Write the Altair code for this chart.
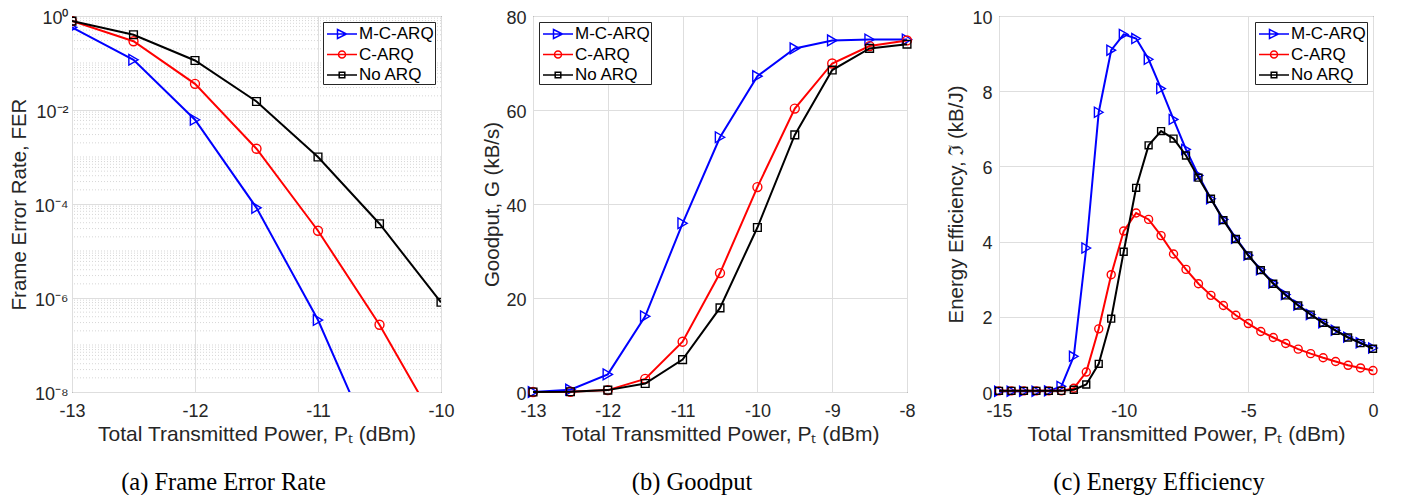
import altair as alt
import pandas as pd

series = ["M-C-ARQ", "C-ARQ", "No ARQ"]
colors = ["#0000ff", "#ff0000", "#000000"]
shapes = ["triangle-right", "circle", "square"]

# (a) Frame Error Rate
fer_x = [-13, -12.5, -12, -11.5, -11, -10.5, -10]
fer_mcarq = [0.57, 0.117, 0.0062, 8.3e-5, 3.4e-7, 3.5e-10, None]
fer_carq = [0.78, 0.29, 0.036, 0.0015, 2.7e-5, 2.7e-7, 1.4e-9]
fer_noarq = [0.78, 0.40, 0.113, 0.0152, 0.001, 3.8e-5, 8.1e-7]

# (b) Goodput
gp_x = [-13, -12.5, -12, -11.5, -11, -10.5, -10, -9.5, -9, -8.5, -8]
gp_mcarq = [0.0, 0.5, 3.75, 16.1, 35.9, 54.2, 67.2, 73.1, 74.8, 75.0, 75.0]
gp_carq = [0.0, 0.05, 0.4, 2.8, 10.7, 25.3, 43.6, 60.3, 69.9, 73.6, 74.8]
gp_noarq = [0.0, 0.05, 0.4, 1.8, 6.9, 17.9, 35.0, 54.7, 68.5, 73.1, 74.0]

# (c) Energy Efficiency
ee_x = [-15, -14.5, -14, -13.5, -13, -12.5, -12, -11.5, -11, -10.5, -10,
        -9.5, -9, -8.5, -8, -7.5, -7, -6.5, -6, -5.5, -5, -4.5, -4, -3.5,
        -3, -2.5, -2, -1.5, -1, -0.5, 0]
ee_mcarq = [0.02, 0.02, 0.02, 0.02, 0.03, 0.15, 0.95, 3.83, 7.44, 9.09, 9.51,
            9.40, 8.85, 8.07, 7.25, 6.45, 5.76, 5.14, 4.59, 4.09, 3.64, 3.25,
            2.90, 2.59, 2.31, 2.06, 1.84, 1.64, 1.46, 1.31, 1.17]
ee_carq = [0.03, 0.03, 0.03, 0.03, 0.03, 0.03, 0.10, 0.53, 1.68, 3.12, 4.28,
           4.76, 4.59, 4.16, 3.67, 3.26, 2.88, 2.57, 2.30, 2.04, 1.82, 1.61,
           1.45, 1.29, 1.14, 1.02, 0.91, 0.81, 0.71, 0.64, 0.57]
ee_noarq = [0.03, 0.03, 0.03, 0.03, 0.03, 0.03, 0.06, 0.20, 0.75, 1.95, 3.73,
            5.43, 6.56, 6.94, 6.74, 6.29, 5.70, 5.14, 4.57, 4.07, 3.63, 3.24,
            2.88, 2.57, 2.30, 2.06, 1.84, 1.63, 1.45, 1.30, 1.15]

# tick values / labels
fer_xticks = [-13, -12, -11, -10]
fer_yticks = [1, 1e-2, 1e-4, 1e-6, 1e-8]
fer_ylabels = ["10⁰", "10⁻²", "10⁻⁴", "10⁻⁶", "10⁻⁸"]
gp_xticks = [-13, -12, -11, -10, -9, -8]
gp_yticks = [0, 20, 40, 60, 80]
ee_xticks = [-15, -10, -5, 0]
ee_yticks = [0, 2, 4, 6, 8, 10]

x_title = "Total Transmitted Power, Pₜ (dBm)"
captions = ["(a) Frame Error Rate", "(b) Goodput", "(c) Energy Efficiency"]
y_titles = ["Frame Error Rate, FER", "Goodput, G (kB/s)", "Energy Efficiency, ℑ (kB/J)"]


def long_df(xs, cols):
    rows = []
    for s, vals in zip(series, cols):
        for x, v in zip(xs, vals):
            if v is not None:
                rows.append({"x": x, "v": v, "series": s})
    return pd.DataFrame(rows)


df_a = long_df(fer_x, [fer_mcarq, fer_carq, fer_noarq])
df_b = long_df(gp_x, [gp_mcarq, gp_carq, gp_noarq])
df_c = long_df(ee_x, [ee_mcarq, ee_carq, ee_noarq])

FONT = "Liberation Sans"
AX = "#262626"

# legend glyphs: a short line with the marker in its middle
legend_paths = [
    "M-0.8,0L2.2,0M0.25,-0.45L1.15,0L0.25,0.45Z",
    "M-0.8,0L2.2,0M1.05,0A0.35,0.35,0,1,1,0.35,0A0.35,0.35,0,1,1,1.05,0Z",
    "M-0.8,0L2.2,0M0.42,-0.28L0.98,-0.28L0.98,0.28L0.42,0.28Z",
]


def make_legend(orient):
    return alt.Legend(
        title=None, orient=orient, offset=6,
        labelFont=FONT, labelFontSize=17, labelColor="#000000",
        fillColor="white", strokeColor=AX, padding=1,
        symbolSize=400, symbolStrokeWidth=1.5, symbolOpacity=1,
        symbolFillColor="transparent",
        rowPadding=1.5, labelOffset=13,
    )


def axis(values, title, label_expr=None, title_pad=4, label_pad=7, title_size=20.5,
         label_offset=0):
    return alt.Axis(
        values=values, title=title, grid=True, gridColor="#dedede", gridWidth=1,
        domain=False, ticks=False, labelFont=FONT, labelFontSize=18,
        labelColor=AX, labelOverlap=False, labelPadding=label_pad, labelFlush=False,
        labelOffset=label_offset,
        titleFont=FONT, titleFontSize=title_size, titleFontWeight="normal",
        titleColor=AX, titlePadding=title_pad,
        labelExpr=label_expr if label_expr else "datum.value + ''",
    )


def xaxis(values):
    return axis(values, x_title, title_pad=3, label_pad=10, title_size=21)


def panel(df, xdom, x_axis, ydom, y_axis, orient, caption, cap_dx, width, height,
          ylog=False, clip=False, msizes=(90, 70, 50), extra=None):
    xs = alt.Scale(domain=xdom, nice=False, zero=False)
    if ylog:
        ys = alt.Scale(type="log", domain=ydom, nice=False)
    else:
        ys = alt.Scale(domain=ydom, nice=False, zero=False)
    cs = alt.Scale(domain=series, range=colors)
    legend = make_legend(orient)
    x_enc = alt.X("x:Q", scale=xs, axis=x_axis)
    y_enc = alt.Y("v:Q", scale=ys, axis=y_axis)
    layers = []
    # invisible layer that only carries the legend glyphs
    leg = alt.Chart(df).mark_point(size=400, opacity=0, filled=False, clip=True).encode(
        x=x_enc, y=y_enc,
        color=alt.Color("series:N", scale=cs, legend=legend),
        shape=alt.Shape("series:N", scale=alt.Scale(domain=series, range=legend_paths),
                        legend=legend),
    )
    layers.append(leg)
    if extra is not None:
        layers.append(extra)
    for i, s in enumerate(series):
        base = alt.Chart(df).transform_filter(alt.datum.series == s)
        enc = dict(x=x_enc, y=y_enc,
                   color=alt.Color("series:N", scale=cs, legend=legend))
        layers.append(base.mark_line(strokeWidth=2, clip=clip).encode(**enc))
        layers.append(base.mark_point(shape=shapes[i], size=msizes[i], filled=False,
                                      strokeWidth=1.4, opacity=1, clip=clip).encode(**enc))
    return alt.layer(*layers).properties(
        width=width, height=height,
        title=alt.TitleParams(text=caption, orient="bottom", anchor="middle",
                              frame="group", dx=cap_dx, font="Liberation Serif",
                              fontSize=24.5, fontWeight="normal", color="#000000",
                              offset=27),
    )


# minor grid for log axis
minor_vals = []
for k in range(-8, 0):
    for m in range(1, 10):
        if not (m == 1 and k % 2 == 0):
            minor_vals.append(m * 10.0 ** k)
minor_df = pd.DataFrame({"v": minor_vals})
minor_rule = alt.Chart(minor_df).mark_rule(color="#c4c4c4", strokeWidth=0.7,
                                           strokeDash=[1, 2]).encode(
    y=alt.Y("v:Q", scale=alt.Scale(type="log", domain=[1e-8, 1], nice=False))
)

fer_expr = "".join(
    [f"datum.value > {v * 0.5} ? '{lab}' : " for v, lab in zip(fer_yticks[:-1], fer_ylabels[:-1])]
) + f"'{fer_ylabels[-1]}'"

H = 376
pa = panel(df_a, [-13, -10], xaxis(fer_xticks),
           [1e-8, 1], axis(fer_yticks, y_titles[0], label_expr=fer_expr, title_pad=5,
                           label_pad=4, label_offset=2),
           "top-right", captions[0], -33, 369, H, ylog=True, clip=True,
           msizes=(115, 80, 60), extra=minor_rule)
pb = panel(df_b, [-13, -8], xaxis(gp_xticks),
           [0, 80], axis(gp_yticks, y_titles[1], title_pad=3, label_offset=2),
           "top-left", captions[1], -28, 374, H, msizes=(115, 80, 60))
pc = panel(df_c, [-15, 0], xaxis(ee_xticks),
           [0, 10], axis(ee_yticks, y_titles[2], title_pad=5, label_offset=2),
           "top-right", captions[2], -27, 374, H, msizes=(100, 64, 48))

chart = alt.hconcat(pa, pb, pc, spacing=92, bounds="flush").resolve_scale(
    x="independent", y="independent"
).resolve_legend(color="independent", shape="independent").properties(
    padding={"left": 0, "top": 0, "right": 4, "bottom": 0},
    background="white",
).configure_view(stroke=AX, strokeWidth=1)

chart.save("out.html", embed_options={"renderer": "svg", "actions": False})
